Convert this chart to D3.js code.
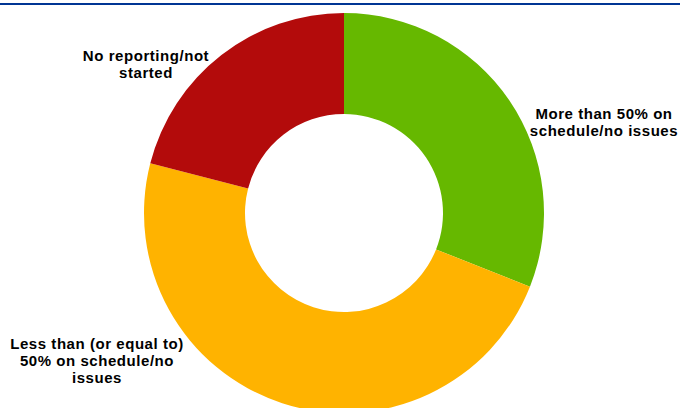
<!DOCTYPE html>
<meta charset="utf-8">
<style>
  body { margin: 0; background: #fff; }
</style>
<script src="https://d3js.org/d3.v7.min.js"></script>
<div id="chart"></div>
<script>
// status categories and shares (%), clockwise from 12 o'clock
var categories = ["More than 50% on schedule/no issues",
                  "Less than (or equal to) 50% on schedule/no issues",
                  "No reporting/not started"];
var values = [31, 48, 21];
var colours = ["#66b800", "#ffb300", "#b30b0b"];
// label lines as they wrap in the picture
var labelLines = [["More than 50% on", "schedule/no issues"],
                  ["Less than (or equal to)", "50% on schedule/no", "issues"],
                  ["No reporting/not", "started"]];
var labelPos = [[604, 119], [97, 348.5], [146, 60.5]];

var width = 680, height = 408;
var cx = 344, cy = 213, outerR = 200, innerR = 99;

var svg = d3.select("#chart").append("svg")
  .attr("width", width)
  .attr("height", height);

// blue rule across the top
svg.append("rect")
  .attr("x", 0).attr("y", 3)
  .attr("width", width).attr("height", 2)
  .attr("fill", "#003594");

var pie = d3.pie().sort(null).value(function(d) { return d; });
var arc = d3.arc().innerRadius(innerR).outerRadius(outerR);

var g = svg.append("g").attr("transform", "translate(" + cx + "," + cy + ")");

g.selectAll("path")
  .data(pie(values))
  .enter()
  .append("path")
    .attr("d", arc)
    .attr("fill", function(d, i) { return colours[i]; });

var labels = svg.selectAll("text.lbl")
  .data(categories)
  .enter()
  .append("text")
    .attr("class", "lbl")
    .attr("text-anchor", "middle")
    .attr("font-family", "Liberation Sans, Arial, sans-serif")
    .attr("font-weight", "bold")
    .attr("font-size", 15)
    .attr("letter-spacing", "0.55px")
    .attr("fill", "#000");

labels.each(function(d, i) {
  var t = d3.select(this);
  labelLines[i].forEach(function(line, k) {
    t.append("tspan")
      .attr("x", labelPos[i][0])
      .attr("y", labelPos[i][1] + k * 17)
      .text(line);
  });
});
</script>
